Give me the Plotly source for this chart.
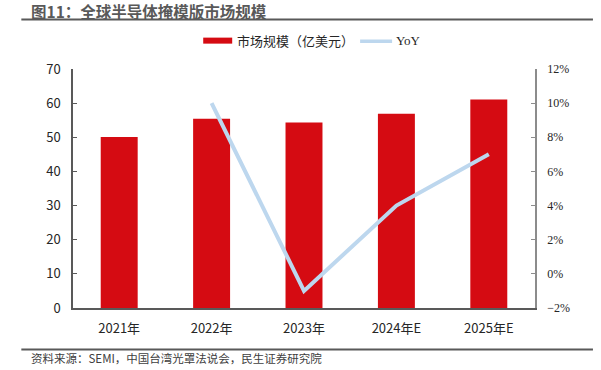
import plotly.graph_objects as go

categories = ["2021年", "2022年", "2023年", "2024年E", "2025年E"]
market_size = [50.1, 55.4, 54.3, 56.9, 61.1]
yoy_categories = ["2022年", "2023年", "2024年E", "2025年E"]
yoy_pct = [10.0, -1.0, 4.0, 7.0]

W, H = 601, 370
L, R, T, B = 72.7, 535.0, 69.3, 307.7
PW, PH = R - L, B - T

def px(x):
    return (x - L) / PW

def py(y):
    return (B - y) / PH

RED = "#D50B12"
BLUE = "#BDD7EE"
AX = "#595959"
SANS = "Noto Sans CJK SC"
SERIF = "Liberation Serif"

fig = go.Figure()
fig.add_trace(go.Bar(x=categories, y=market_size, marker_color=RED,
                     marker_line_width=0, name="市场规模（亿美元）", showlegend=False))
fig.add_trace(go.Scatter(x=yoy_categories, y=yoy_pct, yaxis="y2", mode="lines",
                         line=dict(color=BLUE, width=4), name="YoY", showlegend=False))

shapes = [
    dict(type="line", xref="paper", yref="paper", x0=px(21), x1=px(593), y0=py(20), y1=py(20),
         line=dict(color=AX, width=2)),
    dict(type="line", xref="paper", yref="paper", x0=px(21), x1=px(593), y0=py(349), y1=py(349),
         line=dict(color=AX, width=2)),
    dict(type="rect", xref="paper", yref="paper", x0=px(203), x1=px(232), y0=py(38), y1=py(44),
         fillcolor=RED, line=dict(width=0)),
    dict(type="line", xref="paper", yref="paper", x0=px(360), x1=px(392), y0=py(41.5), y1=py(41.5),
         line=dict(color=BLUE, width=3.5)),
]

annotations = [
    dict(text="<b>图11：全球半导体掩模版市场规模</b>", xref="paper", yref="paper",
         x=px(30), y=py(11.5), xanchor="left", yanchor="middle", showarrow=False,
         borderpad=0,
         font=dict(family=SANS, size=15.5, color="#595959")),
    dict(text="市场规模（亿美元）", xref="paper", yref="paper",
         x=px(235), y=py(41), xanchor="left", yanchor="middle", showarrow=False,
         font=dict(family=SANS, size=13, color="#262626")),
    dict(text="YoY", xref="paper", yref="paper",
         x=px(394), y=py(41), xanchor="left", yanchor="middle", showarrow=False,
         font=dict(family=SERIF, size=13, color="#262626")),
    dict(text="资料来源：SEMI，中国台湾光罩法说会，民生证券研究院", xref="paper", yref="paper",
         x=px(29), y=py(358), xanchor="left", yanchor="middle", showarrow=False,
         font=dict(family=SANS, size=11.5, color="#404040")),
]

fig.update_layout(
    width=W, height=H,
    margin=dict(l=L, r=W - R, t=T, b=H - B, pad=0),
    paper_bgcolor="white", plot_bgcolor="white",
    bargap=0.6,
    shapes=shapes, annotations=annotations,
    xaxis=dict(type="category", showline=True, linecolor=AX, linewidth=1.5,
               showgrid=False, ticks="", ticklabelstandoff=8,
               tickfont=dict(family=SANS, size=13, color="#262626")),
    yaxis=dict(range=[0, 70], dtick=10, showline=True, linecolor=AX, linewidth=1.5,
               showgrid=False, zeroline=False, ticks="inside", ticklen=4, tickcolor=AX,
               ticklabelstandoff=8,
               tickfont=dict(family=SANS, size=13, color="#262626")),
    yaxis2=dict(range=[-2, 12], dtick=2, overlaying="y", side="right", showline=True,
                linecolor="#8c8c8c", linewidth=1.5, showgrid=False, zeroline=False,
                ticks="inside", ticklen=4, tickcolor="#8c8c8c", ticksuffix="%",
                ticklabelstandoff=8,
                tickfont=dict(family=SERIF, size=12, color="#262626")),
    showlegend=False,
)

fig.write_html("out.html",
               config={"displayModeBar": False},
               post_script="document.body.style.margin='0';document.body.style.overflow='hidden';")
